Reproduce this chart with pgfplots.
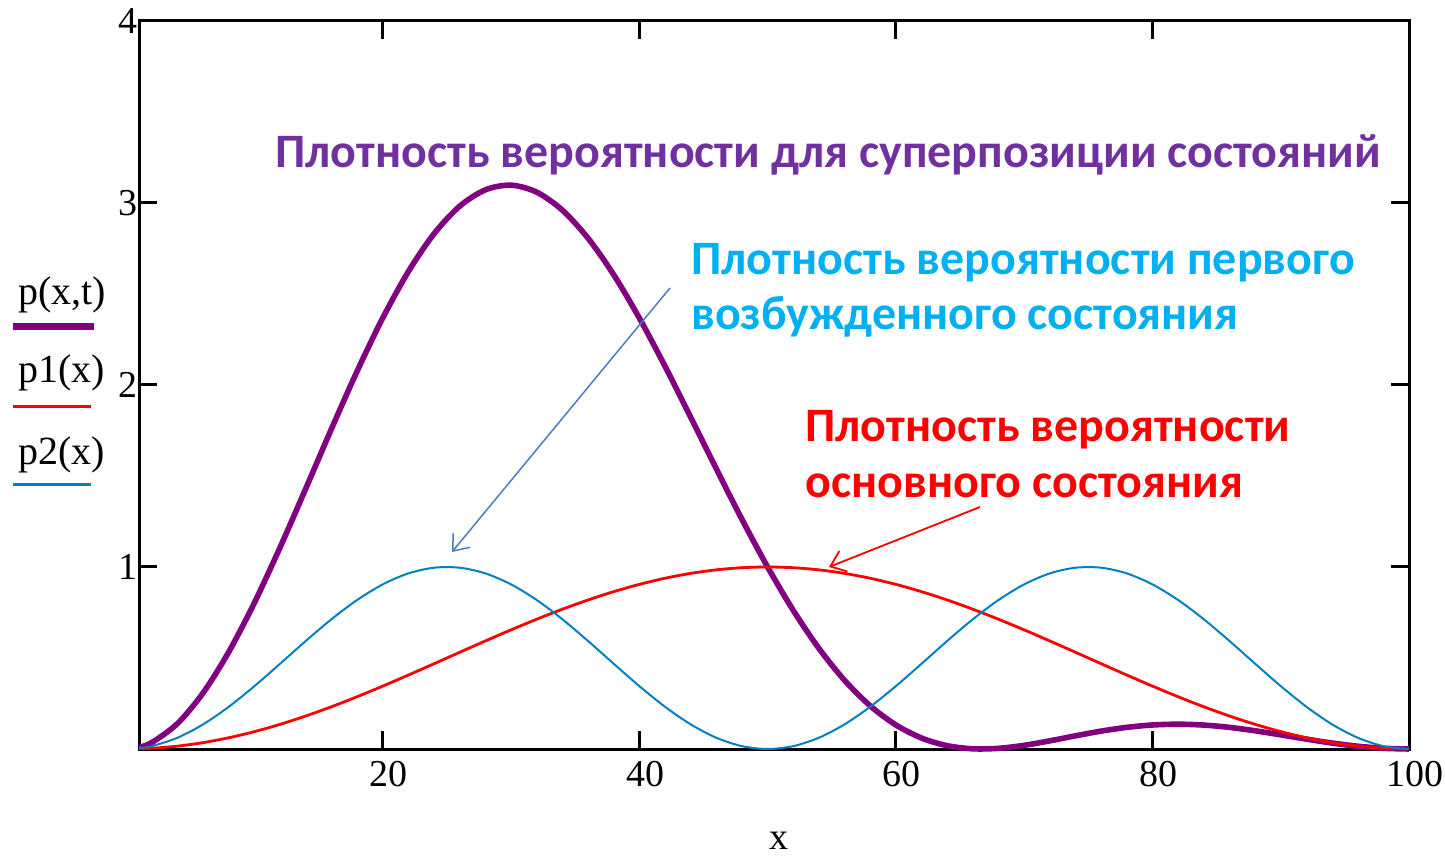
\documentclass[border=0pt]{standalone}
\usepackage{fontspec}
\setmainfont{Liberation Serif}
\newfontfamily\carl{Carlito}
\usepackage{pgfplots}
\pgfplotsset{compat=1.18}
\usepackage{pgfplotstable}
\usetikzlibrary{arrows.meta}
\definecolor{cpur}{HTML}{800080}
\definecolor{cred}{HTML}{FF0000}
\definecolor{cblu}{HTML}{0080C0}
\definecolor{tpur}{HTML}{7030A0}
\definecolor{tblu}{HTML}{00B0F0}
\definecolor{arrblu}{HTML}{4A7EBB}

\pgfplotstableread{
x p p1 p2
1 0.00887 0.00099 0.00394
2 0.03539 0.00394 0.01571
4 0.13989 0.01571 0.06185
6 0.30858 0.03511 0.13551
8 0.53354 0.06185 0.23209
10 0.80427 0.09549 0.34549
12 1.10811 0.13551 0.46860
14 1.43111 0.18129 0.59369
16 1.75849 0.23209 0.71289
18 2.07550 0.28711 0.81871
20 2.36806 0.34549 0.90451
22 2.62346 0.40631 0.96489
24 2.83108 0.46860 0.99606
26 2.98253 0.53140 0.99606
28 3.07231 0.59369 0.96489
30 3.09788 0.65451 0.90451
32 3.05956 0.71289 0.81871
34 2.96060 0.76791 0.71289
36 2.80676 0.81871 0.59369
38 2.60606 0.86449 0.46860
40 2.36806 0.90451 0.34549
42 2.10346 0.93815 0.23209
44 1.82361 0.96489 0.13551
46 1.53958 0.98429 0.06185
48 1.26194 0.99606 0.01571
50 1.00000 1.00000 0
52 0.76161 0.99606 0.01571
54 0.55267 0.98429 0.06185
56 0.37720 0.96489 0.13551
58 0.23700 0.93815 0.23209
60 0.13197 0.90451 0.34549
62 0.06014 0.86449 0.46860
64 0.01804 0.81871 0.59369
66 0.00102 0.76791 0.71289
68 0.00366 0.71289 0.81871
70 0.02018 0.65451 0.90451
72 0.04485 0.59369 0.96489
74 0.07239 0.53140 0.99606
76 0.09827 0.46860 0.99606
78 0.11894 0.40631 0.96489
80 0.13197 0.34549 0.90451
82 0.13616 0.28711 0.81871
84 0.13146 0.23209 0.71289
86 0.11884 0.18129 0.59369
88 0.10013 0.13551 0.46860
90 0.07771 0.09549 0.34549
92 0.05432 0.06185 0.23209
94 0.03267 0.03511 0.13551
96 0.01522 0.01571 0.06185
98 0.00391 0.00394 0.01571
100 0 0 0
}\data

\begin{document}
\begin{tikzpicture}[x=0.5bp,y=0.5bp]
\path[use as bounding box] (0,0) rectangle (1445,860);
\begin{axis}[
  at={(69.5bp,55.5bp)}, anchor=south west,
  scale only axis, width=635bp, height=364bp,
  xmin=1, xmax=100, ymin=0, ymax=4,
  xtick={20,40,60,80,100}, ytick={1,2,3,4},
  tick align=inside, major tick length=9bp,
  axis line style={line width=1.5bp, black},
  every tick/.style={black, line width=1.5bp},
  tick label style={font=\fontsize{19bp}{19bp}\selectfont},
  /pgf/number format/assume math mode=true,
  xticklabel style={xshift=3bp, yshift=-2.7bp},
  yticklabel style={xshift=3bp},
  clip=false,
]
\addplot[cpur, line width=2.8bp, smooth] table[x=x, y=p] {\data};
\addplot[cred, line width=1.4bp, smooth] table[x=x, y=p1] {\data};
\addplot[cblu, line width=1bp, smooth] table[x=x, y=p2] {\data};
\end{axis}
% axis label
\node[font=\fontsize{19bp}{19bp}\selectfont] at (779,19) {x};
% legend
\begin{scope}[font=\fontsize{20bp}{20bp}\selectfont]
\node[anchor=base west, inner sep=0pt] at (18,555) {p(x,t)};
\draw[cpur, line width=3.5bp] (13,533) -- (94,533);
\node[anchor=base west, inner sep=0pt] at (18,477) {p1(x)};
\draw[cred, line width=1.5bp] (13,453) -- (91,453);
\node[anchor=base west, inner sep=0pt] at (18,395) {p2(x)};
\draw[cblu, line width=1.5bp] (13,375) -- (91,375);
\end{scope}
% annotations
\begin{scope}[font=\carl\bfseries\fontsize{24bp}{28bp}\selectfont]
\node[anchor=base west, inner sep=0pt, text=tpur] at (275,692) {Плотность вероятности для суперпозиции состояний};
\node[anchor=base west, inner sep=0pt, text=tblu] at (691,585) {Плотность вероятности первого};
\node[anchor=base west, inner sep=0pt, text=tblu] at (691,530) {возбужденного состояния};
\node[anchor=base west, inner sep=0pt, text=cred] at (805,418) {Плотность вероятности};
\node[anchor=base west, inner sep=0pt, text=cred] at (805,362) {основного состояния};
\end{scope}
\draw[arrblu, line width=0.75bp, -{Straight Barb[length=7bp, width=11bp]}] (670,572) -- (452,308);
\draw[cred, line width=0.9bp, -{Straight Barb[length=7bp, width=11bp]}] (980,353) -- (829,293);
\end{tikzpicture}
\end{document}
